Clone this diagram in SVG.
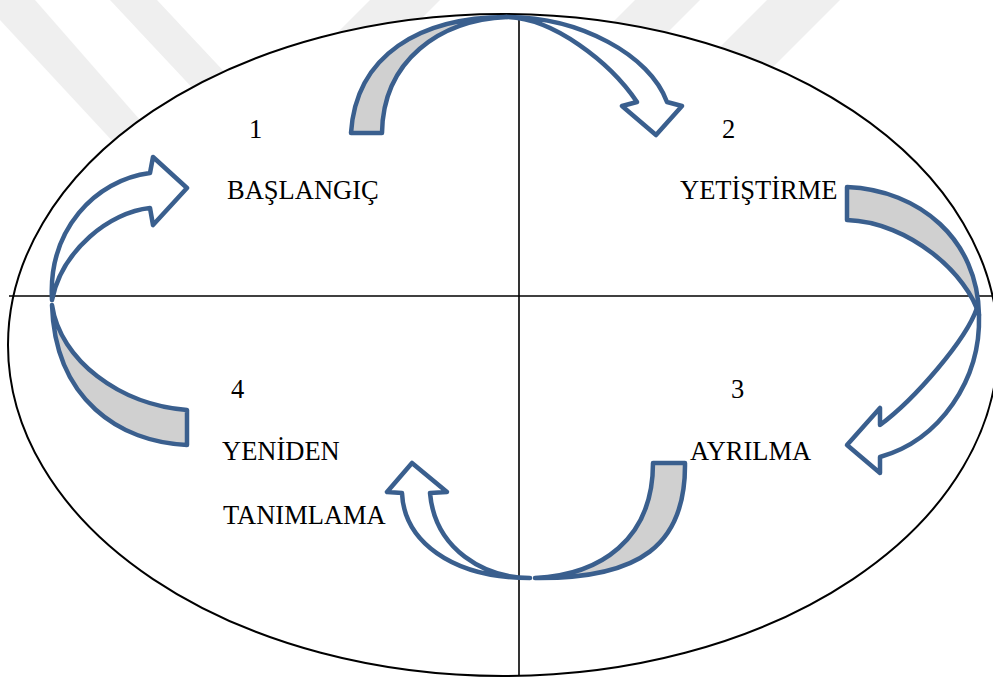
<svg xmlns="http://www.w3.org/2000/svg" width="993" height="680" viewBox="0 0 993 680">
<style>
.wm{fill:#efefef}
.axis{stroke:#000;stroke-width:1.6;fill:none}
.frame{fill:#fff;stroke:#000;stroke-width:2}
.back{fill:#d0d0d0;stroke:#3a5f8e;stroke-width:4.5;stroke-linejoin:round}
.front{fill:#fff;stroke:#3a5f8e;stroke-width:4.5;stroke-linejoin:round}
.t{font-family:"Liberation Serif","Times New Roman",serif;font-size:26.5px;fill:#000}
</style>
<rect width="993" height="680" fill="#fff"/>
<g id="watermark">
<polygon class="wm" points="0,20 0,0 35,0 175,160 130,160"/>
<polygon class="wm" points="110,0 157,0 260,110 213,110"/>
<polygon class="wm" points="370,0 440,0 400,40 330,40"/>
<polygon class="wm" points="635,0 700,0 640,60 575,60"/>
<polygon class="wm" points="767,0 840,0 770,70 697,70"/>
</g>
<g id="frame">
<ellipse class="frame" cx="503" cy="345" rx="495" ry="331"/>
<line class="axis" x1="9" y1="296" x2="993" y2="296"/>
<line class="axis" x1="519" y1="20" x2="519" y2="675"/>
</g>
<g id="connectors">
<g id="arrow-1-2">
<path class="back" d="M351,133 C356,55 420,17 507,17 C440,20 383,60 382,133 Z"/>
<path class="front" d="M507,17 C580,17 650,55 667,102 L682,106 L656,135 L622,106 L637,102 C610,62 553,18 507,17 Z"/>
</g>
<g id="arrow-2-3">
<path class="back" d="M847,187 C920,190 978,240 979,315 C968,275 910,222 847,220 Z"/>
<path class="front" d="M979,315 C981,380 940,440 880,457 L880,473 L847,445 L880,408 L880,425 C915,399 966,340 977,308 Z"/>
</g>
<g id="arrow-3-4">
<path class="back" d="M685,463 C686,545 640,579 535,578 C600,575 653,540 653,463 Z"/>
<path class="front" d="M430,493 L447,492 L412,463 L387,492 L402,493 C404,540 450,578 530,578 C485,578 435,550 430,493 Z"/>
</g>
<g id="arrow-4-1">
<path class="back" d="M187,445 C120,442 55,400 52,305 C60,360 120,405 187,410 Z"/>
<path class="front" d="M150,173 L153,157 L187,188 L153,225 L150,208 C110,212 62,250 52,300 C48,230 95,180 150,173 Z"/>
</g>
</g>
<g id="node-1">
<text class="t" x="249" y="138">1</text>
<text class="t" x="227" y="199">BAŞLANGIÇ</text>
</g>
<g id="node-2">
<text class="t" x="722" y="138">2</text>
<text class="t" x="680" y="199">YETİŞTİRME</text>
</g>
<g id="node-3">
<text class="t" x="731" y="398">3</text>
<text class="t" x="690" y="460">AYRILMA</text>
</g>
<g id="node-4">
<text class="t" x="231" y="398">4</text>
<text class="t" x="222" y="460">YENİDEN</text>
<text class="t" x="223" y="524">TANIMLAMA</text>
</g>
</svg>
